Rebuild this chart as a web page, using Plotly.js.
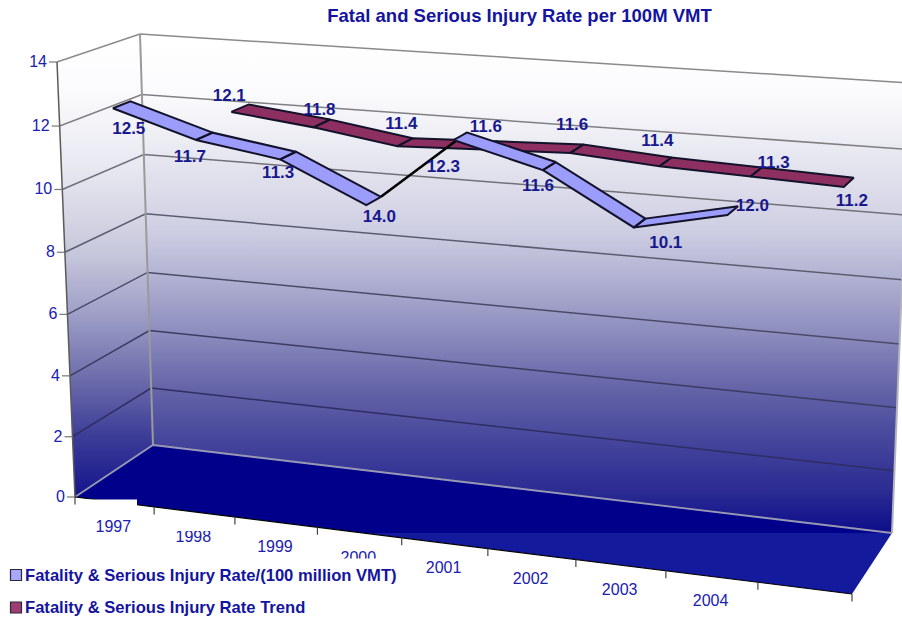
<!DOCTYPE html>
<html>
<head>
<meta charset="utf-8">
<script src="https://cdn.plot.ly/plotly-3.0.1.min.js"></script>
<style>html,body{margin:0;padding:0;background:#fff}#chart{width:902px;height:620px}</style>
</head>
<body>
<div id="chart"></div>
<script>
// ---------- data ----------
const chartTitle = 'Fatal and Serious Injury Rate per 100M VMT';
const categories = ['1997','1998','1999','2000','2001','2002','2003','2004'];
const valueTicks = [0,2,4,6,8,10,12,14];
const rateName = 'Fatality & Serious Injury Rate/(100 million VMT)';
const trendName = 'Fatality & Serious Injury Rate Trend';
// heights as drawn (two printed labels in the source disagree with the drawn height)
const rateValues = [12.5,11.7,11.3,10.1,12.3,11.6,10.1,10.7];
const rateLabels = ['12.5','11.7','11.3','14.0','12.3','11.6','10.1','12.0'];
const trendValues = [12.1,11.8,11.4,11.5,11.6,11.4,11.3,11.2];
const trendLabels = ['12.1','11.8','11.4','11.6','11.6','11.4','11.3','11.2'];

// ---------- 3D box projection (style / layout, not data) ----------
const CORNERS = {
  bf0:[75,497],  bf1:[852,594],   // floor front
  bb0:[153,445], bb1:[892,533],   // floor back
  tf0:[57,62],   tf1:[869,118],   // top front
  tb0:[140,34],  tb1:[910,83]     // top back
};
const NCAT = 9, VMAX = 14, WC = 0.907, WV = 0.965;
const lerp=(a,b,t)=>a+(b-a)*t;
function P(c,d,v){
  const t=c/NCAT, u=t*WC/((1-t)+t*WC);
  const f=v/VMAX, h=f*WV/((1-f)+f*WV);
  const out=[];
  for(let k=0;k<2;k++){
    const bf=lerp(CORNERS.bf0[k],CORNERS.bf1[k],u), bb=lerp(CORNERS.bb0[k],CORNERS.bb1[k],u);
    const tf=lerp(CORNERS.tf0[k],CORNERS.tf1[k],u), tb=lerp(CORNERS.tb0[k],CORNERS.tb1[k],u);
    out.push(lerp(lerp(bf,bb,d),lerp(tf,tb,d),h));
  }
  return out;
}
function path(pts,closed){
  const x=[],y=[];
  pts.forEach(p=>{x.push(p?p[0]:null);y.push(p?p[1]:null);});
  if(closed){x.push(pts[0][0]);y.push(pts[0][1]);}
  return {x,y};
}
const INK='#1414a0', LABELINK='#18188e', TICKINK='#2020b0';
const FAMILY='"Liberation Sans",Arial,sans-serif';
const traces=[];
function area(name,pts,gradient,color){
  const p=path(pts,true);
  const t={type:'scatter',mode:'lines',name,x:p.x,y:p.y,fill:'toself',line:{width:0},hoverinfo:'skip',showlegend:false};
  if(gradient) t.fillgradient=gradient; else t.fillcolor=color;
  traces.push(t);
}
function stroke(name,pts,color,width){
  const p=path(pts,false);
  traces.push({type:'scatter',mode:'lines',name,x:p.x,y:p.y,line:{color,width},hoverinfo:'skip',showlegend:false,connectgaps:false});
}
// walls
area('back wall',[P(0,1,0),P(NCAT,1,0),P(NCAT,1,VMAX),P(0,1,VMAX)],
  {type:'vertical',start:34,stop:533,colorscale:[
   [0,'#ffffff'],[0.12,'#fbfbfd'],[0.22,'#ebebf3'],[0.39,'#cfcfe3'],[0.48,'#b4b4d4'],[0.6,'#8c8cbe'],[0.71,'#6464a8'],[0.82,'#44449c'],[0.92,'#2a2a92'],[1,'#0c0c8a']]});
area('side wall',[P(0,0,0),P(0,1,0),P(0,1,VMAX),P(0,0,VMAX)],
  {type:'vertical',start:34,stop:497,colorscale:[
   [0,'#ffffff'],[0.12,'#fbfbfd'],[0.3,'#e6e6f0'],[0.47,'#c8c8dc'],[0.6,'#a0a0c8'],[0.74,'#6e6eac'],[0.87,'#3c3c98'],[1,'#14148c']]});
// floor
area('floor',[P(0,0,0),P(NCAT,0,0),P(NCAT,1,0),P(0,1,0)],
  {type:'vertical',start:445,stop:594,colorscale:[[0,'#00008a'],[0.59,'#00008a'],[0.592,'#141a9c'],[1,'#141a9c']]});
// gridlines
const gridShade={0:'#9a9ab8',2:'#2e2e62',4:'#3c3c62',6:'#4a4a68',8:'#5c5c70',10:'#70707a',12:'#808084',14:'#8a8a8a'};
valueTicks.filter(v=>v>0).forEach(v=>{
  stroke('grid '+v,[P(0,0,v),P(0,1,v),P(NCAT,1,v)],gridShade[v],1.5);
});
// edges
stroke('back-left edge',[P(0,1,0),P(0,1,VMAX)],'#9a9a9a',2);
stroke('back-right edge',[P(NCAT,1,0),P(NCAT,1,VMAX)],'#b4b4bc',2);
stroke('floor back edge',[P(0,0,0),P(0,1,0),P(NCAT,1,0)],'#9898b4',1.8);
stroke('value axis',[P(0,0,0),P(0,0,VMAX)],'#5a5a5a',1.5);
stroke('category axis',[P(0,0,0),P(NCAT,0,0)],'#000000',1.2);
// ticks
const vt=[];valueTicks.forEach(v=>{const p=P(0,0,v);vt.push([p[0]-8,p[1]],p,null);});
stroke('value ticks',vt,'#777777',1.2);
const ct=[];for(let c=0;c<=NCAT;c++){const p=P(c,0,0);ct.push(p,[p[0],p[1]+7.5],null);}
stroke('category ticks',ct,'#444444',1.2);
// ribbons; segments in edgeOn are seen side-on, so only their edge shows
function ribbon(name,vals,firstCat,d0,d1,fill,edgeOn){
  const pts=[],edges=[];
  for(let i=0;i<vals.length-1;i++){
    const c=firstCat+i+0.5;
    if(edgeOn.includes(i)){edges.push(P(c,d1,vals[i]),P(c+1,d1,vals[i+1]),null);continue;}
    pts.push(P(c,d0,vals[i]),P(c+1,d0,vals[i+1]),P(c+1,d1,vals[i+1]),P(c,d1,vals[i]),P(c,d0,vals[i]),null);
  }
  const p=path(pts,false);
  if(edges.length) stroke(name+' side-on',edges,'#000000',2.6);
  traces.push({type:'scatter',mode:'lines',name,x:p.x,y:p.y,fill:'toself',fillcolor:fill,line:{color:'#12122a',width:2},hoverinfo:'skip',showlegend:false});
}
const RATE_D=[0.16,0.38], TREND_D=[0.63,0.86];
ribbon(trendName,trendValues,1,TREND_D[0],TREND_D[1],'#8e2f62',[]);
ribbon(rateName,rateValues,0,RATE_D[0],RATE_D[1],'#9c9cfa',[3]);
// text helper
function label(name,xs,ys,text,pos,font){
  traces.push({type:'scatter',mode:'text',name,x:xs,y:ys,text,textposition:pos,textfont:font,hoverinfo:'skip',showlegend:false,cliponaxis:false});
}
const LABELFONT={family:FAMILY,size:17,color:LABELINK,weight:700};
const rateNudge=[[16,22],[-6,18],[-2,14],[13,13],[-10,28],[-5,17],[32,16],[25,-8]];
const trendNudge=[[-2,-15],[6,-17],[4,-22],[3,-22],[2,-27],[-2,-24],[23,-13],[8,15]];
function dataLabels(name,vals,labels,nudge,firstCat,d){
  const xs=[],ys=[];
  vals.forEach((v,i)=>{const p=P(firstCat+i+0.5,d,v);xs.push(p[0]+nudge[i][0]);ys.push(p[1]+nudge[i][1]);});
  label(name,xs,ys,labels,'middle center',LABELFONT);
}
dataLabels('trend labels',trendValues,trendLabels,trendNudge,1,TREND_D[0]);
dataLabels('rate labels',rateValues,rateLabels,rateNudge,0,RATE_D[0]);
// axis labels
const TICKFONT={family:FAMILY,size:16,color:TICKINK};
label('value labels',valueTicks.map(v=>P(0,0,v)[0]-10),valueTicks.map(v=>P(0,0,v)[1]+1),valueTicks.map(String),'middle left',TICKFONT);
label('category labels',categories.map((_,i)=>P(i+0.5,0,0)[0]-1),categories.map((_,i)=>P(i+0.5,0,0)[1]+26),categories,'middle center',TICKFONT);
// legend
const LEGFONT={family:FAMILY,size:16.6,color:INK,weight:700};
const LEG=[{n:rateName,c:'#a8a8ff',y:575},{n:trendName,c:'#a03c74',y:607.5}];
LEG.forEach(l=>{
  traces.push({type:'scatter',mode:'markers',name:l.n+' key',x:[16],y:[l.y],marker:{symbol:'square',size:11,color:l.c,line:{color:'#2a2a3a',width:1.2}},hoverinfo:'skip',showlegend:false});
  label(l.n,[25],[l.y+1.5],[l.n],'middle right',LEGFONT);
});
const layout={
  width:902,height:620,autosize:false,
  margin:{l:0,r:0,t:0,b:0,pad:0},
  paper_bgcolor:'#fff',plot_bgcolor:'#fff',showlegend:false,
  title:{text:chartTitle,x:519.5/902,xanchor:'center',y:1-16/620,yanchor:'middle',
    font:{family:FAMILY,size:18.5,color:INK,weight:700}},
  xaxis:{range:[0,902],visible:false,fixedrange:true},
  yaxis:{range:[620,0],visible:false,fixedrange:true},
  shapes:[
    {type:'rect',layer:'above',x0:0,x1:410,y0:558.5,y1:564,fillcolor:'#fff',line:{width:0}},
    {type:'rect',layer:'above',x0:170,x1:222,y0:520,y1:531,fillcolor:'#fff',line:{width:0}},
    {type:'rect',layer:'above',x0:78,x1:137,y0:499.5,y1:512,fillcolor:'#fff',line:{width:0}}
  ]
};
Plotly.newPlot('chart',traces,layout,{displayModeBar:false,staticPlot:true});
</script>
</body>
</html>
